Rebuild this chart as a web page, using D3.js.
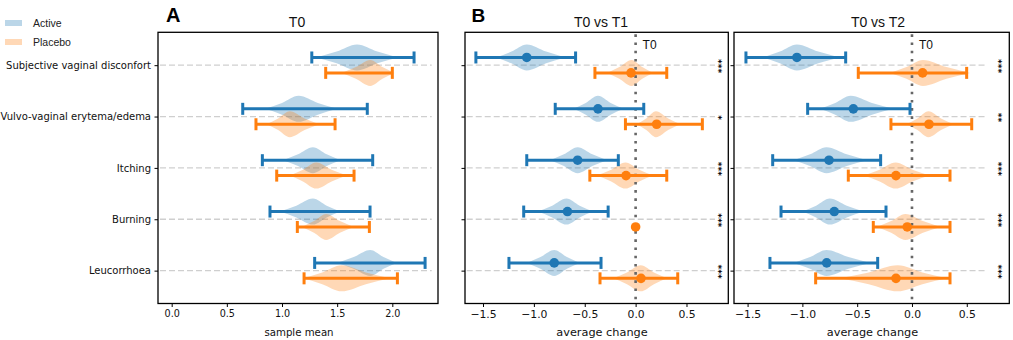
<!DOCTYPE html>
<html><head><meta charset="utf-8">
<script src="https://cdn.jsdelivr.net/npm/d3@7"></script>
<style>body{margin:0;background:#fff}</style></head>
<body>
<svg id="chart" width="1013" height="340"></svg>
<script>
// ---------------- data ----------------
const categories = ["Subjective vaginal disconfort", "Vulvo-vaginal erytema/edema", "Itching", "Burning", "Leucorrhoea"];
const seriesNames = ["Active", "Placebo"];

// Panel A (T0, sample mean): interval ends
const activeA_lo  = [1.27, 0.644, 0.822, 0.891, 1.296];
const activeA_hi  = [2.197, 1.773, 1.822, 1.798, 2.297];
const placeboA_lo = [1.396, 0.764, 0.952, 1.139, 1.20];
const placeboA_hi = [2.00, 1.481, 1.653, 1.792, 2.046];
// violins [low end, peak, high end]
const activeA_violin  = [[1.31, 1.68, 2.05], [0.85, 1.15, 1.50], [1.01, 1.28, 1.53], [0.98, 1.28, 1.53], [1.50, 1.80, 2.04]];
const placeboA_violin = [[1.54, 1.80, 2.02], [0.86, 1.07, 1.34], [1.07, 1.31, 1.59], [1.18, 1.40, 1.65], [1.19, 1.54, 1.98]];

// Panel B (T0 vs T1, average change)
const activeB_mean  = [-1.07, -0.37, -0.57, -0.67, -0.80];
const activeB_lo    = [-1.57, -0.79, -1.07, -1.10, -1.245];
const activeB_hi    = [-0.59, 0.08, -0.17, -0.27, -0.34];
const placeboB_mean = [-0.045, 0.207, -0.094, 0.0, 0.053];
const placeboB_lo   = [-0.40, -0.10, -0.45, 0.0, -0.35];
const placeboB_hi   = [0.306, 0.656, 0.306, 0.0, 0.414];
const activeB_violin  = [[-1.37, -1.07, -0.69], [-0.61, -0.37, -0.12], [-0.84, -0.57, -0.28], [-0.96, -0.68, -0.42], [-1.07, -0.80, -0.55]];
const placeboB_violin = [[-0.28, -0.04, 0.17], [0.01, 0.20, 0.44], [-0.38, -0.10, 0.17], null, [-0.22, 0.05, 0.31]];
const signifB = ["***", "*", "***", "***", "***"];

// Panel C (T0 vs T2, average change)
const activeC_mean  = [-1.05, -0.535, -0.757, -0.709, -0.778];
const activeC_lo    = [-1.515, -0.952, -1.271, -1.195, -1.296];
const activeC_hi    = [-0.605, -0.018, -0.286, -0.237, -0.313];
const placeboC_mean = [0.097, 0.155, -0.146, -0.043, -0.146];
const placeboC_lo   = [-0.49, -0.192, -0.581, -0.353, -0.879];
const placeboC_hi   = [0.499, 0.545, 0.347, 0.347, 0.347];
const activeC_violin  = [[-1.36, -1.05, -0.66], [-0.84, -0.56, -0.17], [-1.08, -0.78, -0.41], [-1.00, -0.75, -0.44], [-1.08, -0.78, -0.38]];
const placeboC_violin = [[-0.20, 0.10, 0.53], [-0.05, 0.15, 0.38], [-0.44, -0.15, 0.16], [-0.32, -0.06, 0.26], [-0.66, -0.13, 0.32]];
const signifC = ["***", "**", "***", "***", "***"];

const xTicksA  = [0, 0.5, 1.0, 1.5, 2.0];
const xTicksBC = [-1.5, -1.0, -0.5, 0.0, 0.5];

// ---------------- drawing ----------------
const svg = d3.select("#chart");
const colors = {Active: "#1f77b4", Placebo: "#ff7f0e"};
const yTop = 32.3, yBot = 303.5;
const y = d3.scaleLinear().domain([-0.64, 4.64]).range([yTop, yBot]);
const rowOff = 0.15;        // offset of each series from the category line (category units)
const vHalf = 13;           // violin half height (px)
const capHalf = 6;

const panels = [
  {x0: 158, x1: 438, dom: [-0.124, 2.414], ticks: xTicksA, tickFont: 9.6, title: "T0", titleX: 297, letter: "A", letterX: 166, letterSize: 20,
   label: "sample mean", labelX: 299, labelSize: 10.2, grid: [-0.106, 2.357], showY: true, zero: false,
   series: [
     {name: "Active", lo: activeA_lo, hi: activeA_hi, mean: null, violin: activeA_violin},
     {name: "Placebo", lo: placeboA_lo, hi: placeboA_hi, mean: null, violin: placeboA_violin}]},
  {x0: 465, x1: 728.3, dom: [-1.677, 0.911], ticks: xTicksBC, tickFont: 10.8, title: "T0 vs T1", titleX: 601, letter: "B", letterX: 471.5, letterSize: 19,
   label: "average change", labelX: 602, labelSize: 11.3, grid: [-1.66, 0.78], showY: false, zero: true, signif: signifB, starX: 0.81,
   series: [
     {name: "Active", lo: activeB_lo, hi: activeB_hi, mean: activeB_mean, violin: activeB_violin},
     {name: "Placebo", lo: placeboB_lo, hi: placeboB_hi, mean: placeboB_mean, violin: placeboB_violin}]},
  {x0: 734, x1: 1009.3, dom: [-1.624, 0.888], ticks: xTicksBC, tickFont: 10.8, title: "T0 vs T2", titleX: 878, letter: null,
   label: "average change", labelX: 872.5, labelSize: 11.3, grid: [-1.61, 0.667], showY: false, zero: true, signif: signifC, starX: 0.785,
   series: [
     {name: "Active", lo: activeC_lo, hi: activeC_hi, mean: activeC_mean, violin: activeC_violin},
     {name: "Placebo", lo: placeboC_lo, hi: placeboC_hi, mean: placeboC_mean, violin: placeboC_violin}]}
];

function drawPanel(p) {
  const g = svg.append("g");
  const x = d3.scaleLinear().domain(p.dom).range([p.x0, p.x1]);

  // dashed category lines
  g.selectAll("line.grid").data(categories).join("line")
    .attr("x1", x(p.grid[0])).attr("x2", x(p.grid[1]))
    .attr("y1", (d, i) => y(i)).attr("y2", (d, i) => y(i))
    .attr("stroke", "#cfcfcf").attr("stroke-width", 1.3).attr("stroke-dasharray", "6,3");

  // violins
  const area = d3.area().curve(d3.curveMonotoneX);
  p.series.forEach((s, si) => {
    const off = si === 0 ? -rowOff : rowOff;
    s.violin.forEach((v, i) => {
      if (!v) return;
      const [lo, pk, hi] = v;
      const cy = y(i + off);
      const prof = [[lo, 0], [(lo + pk) / 2, 0.45], [pk, 1], [(pk + hi) / 2, 0.45], [hi, 0]];
      area.x(d => x(d[0])).y0(d => cy + d[1] * vHalf).y1(d => cy - d[1] * vHalf);
      g.append("path").attr("d", area(prof)).attr("fill", colors[s.name]).attr("fill-opacity", 0.3);
    });
  });

  // zero reference line
  if (p.zero) {
    g.append("line").attr("x1", x(0)).attr("x2", x(0)).attr("y1", yTop + 2).attr("y2", yBot)
      .attr("stroke", "#666").attr("stroke-width", 2.6).attr("stroke-dasharray", "2.6,5.6");
    g.append("text").attr("x", x(0) + 7).attr("y", 48.5).text("T0")
      .attr("font-family", "Liberation Sans, Arial, sans-serif").attr("font-size", 12).attr("fill", "#111");
  }

  // error bars and means
  p.series.forEach((s, si) => {
    const off = si === 0 ? -rowOff : rowOff;
    const c = colors[s.name];
    categories.forEach((cat, i) => {
      const cy = y(i + off);
      const lo = s.lo[i], hi = s.hi[i];
      if (hi > lo) {
        g.append("line").attr("x1", x(lo)).attr("x2", x(hi)).attr("y1", cy).attr("y2", cy)
          .attr("stroke", c).attr("stroke-width", 3);
        [lo, hi].forEach(v => g.append("line").attr("x1", x(v)).attr("x2", x(v))
          .attr("y1", cy - capHalf).attr("y2", cy + capHalf).attr("stroke", c).attr("stroke-width", 3));
      }
      if (s.mean) {
        g.append("circle").attr("cx", x(s.mean[i])).attr("cy", cy).attr("r", 4.8).attr("fill", c);
      }
    });
  });

  // significance marks (rotated text)
  if (p.signif) {
    p.signif.forEach((t, i) => {
      g.append("text")
        .attr("transform", `translate(${x(p.starX)},${y(i) + 1}) rotate(90)`)
        .attr("text-anchor", "middle").attr("dominant-baseline", "central")
        .attr("font-family", "DejaVu Sans, sans-serif").attr("font-weight", "bold")
        .attr("font-size", 9).attr("fill", "#000")
        .text(t);
    });
  }

  // frame
  g.append("rect").attr("x", p.x0).attr("y", yTop).attr("width", p.x1 - p.x0).attr("height", yBot - yTop)
    .attr("fill", "none").attr("stroke", "#000").attr("stroke-width", 1.3);

  // x axis
  const xa = g.append("g").attr("transform", `translate(0,${yBot})`)
    .call(d3.axisBottom(x).tickValues(p.ticks).tickSize(3.5).tickPadding(3.5).tickFormat(d3.format(".1f")));
  xa.select(".domain").remove();
  xa.selectAll("text").attr("font-family", "DejaVu Sans, sans-serif").attr("font-size", p.tickFont).attr("fill", "#111");
  xa.selectAll("line").attr("stroke", "#000").attr("stroke-width", 1);

  // y axis
  const ya = g.append("g").attr("transform", `translate(${p.x0},0)`)
    .call(d3.axisLeft(y).tickValues(d3.range(categories.length)).tickSize(3.5).tickPadding(3.5)
      .tickFormat(i => p.showY ? categories[i] : ""));
  ya.select(".domain").remove();
  ya.selectAll("text").attr("font-family", "DejaVu Sans, sans-serif").attr("font-size", 10).attr("fill", "#111");
  ya.selectAll("line").attr("stroke", "#000").attr("stroke-width", 1);

  // titles / labels
  g.append("text").attr("x", p.titleX).attr("y", 27).attr("text-anchor", "middle").text(p.title)
    .attr("font-family", "Liberation Sans, Arial, sans-serif").attr("font-size", 14).attr("fill", "#111");
  if (p.letter) {
    g.append("text").attr("x", p.letterX).attr("y", 22).text(p.letter)
      .attr("font-family", "Liberation Sans, Arial, sans-serif").attr("font-weight", "bold")
      .attr("font-size", p.letterSize).attr("fill", "#000");
  }
  g.append("text").attr("x", p.labelX).attr("y", 336).attr("text-anchor", "middle").text(p.label)
    .attr("font-family", "DejaVu Sans, sans-serif").attr("font-size", p.labelSize).attr("fill", "#111");
}

panels.forEach(drawPanel);

// legend
const legend = svg.append("g");
seriesNames.forEach((n, i) => {
  legend.append("rect").attr("x", 5).attr("y", 20 + i * 19).attr("width", 17).attr("height", 6)
    .attr("fill", colors[n]).attr("fill-opacity", 0.3);
  legend.append("text").attr("x", 33).attr("y", 26.8 + i * 19).text(n)
    .attr("font-family", "Liberation Sans, Arial, sans-serif").attr("font-size", 10.5).attr("fill", "#222");
});
</script>
</body></html>
